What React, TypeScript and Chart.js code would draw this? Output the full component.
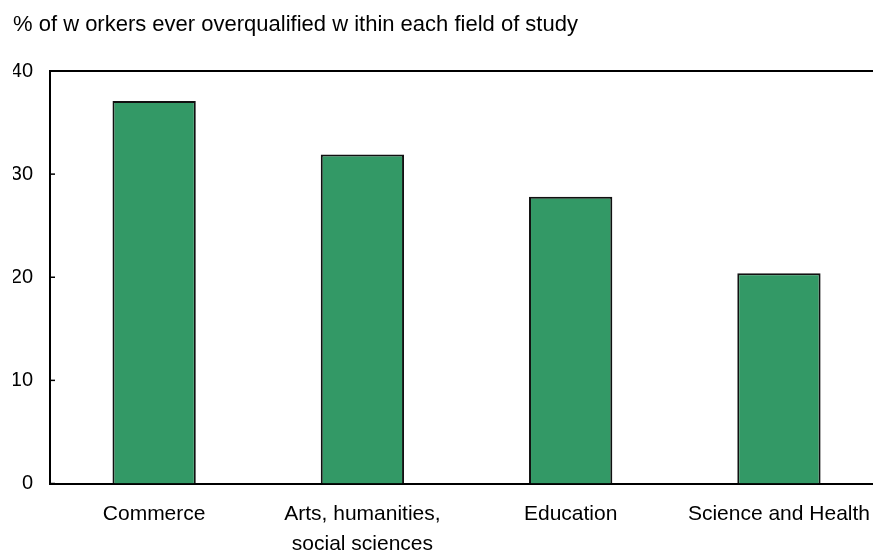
import React, { useEffect, useRef } from "react";
import { Chart, registerables } from "chart.js";

Chart.register(...registerables);

const titleText = "% of w orkers ever overqualified w ithin each field of study";
const categories: (string | string[])[] = [
  "Commerce",
  ["Arts, humanities,", "social sciences"],
  "Education",
  "Science and Health",
];
const shareOverqualified = [37.1, 31.9, 27.8, 20.4];
const yMin = 0;
const yMax = 40;
const yStep = 10;

const FONT = "'Liberation Sans', Arial, sans-serif";

// Frame line along the top of the plot plus short inward ticks on the value axis
const frameAndTicks = {
  id: "frameAndTicks",
  afterDatasetsDraw(chart: any) {
    const { ctx, chartArea, scales } = chart;
    const y = scales.y;
    ctx.save();
    ctx.strokeStyle = "#000";
    ctx.lineWidth = 1.5;
    y.ticks.forEach((t: any) => {
      const py = y.getPixelForValue(t.value);
      ctx.beginPath();
      ctx.moveTo(chartArea.left, py);
      ctx.lineTo(chartArea.left + 5, py);
      ctx.stroke();
    });
    ctx.lineWidth = 2;
    ctx.beginPath();
    ctx.moveTo(chartArea.left - 1, chartArea.top);
    ctx.lineTo(chartArea.right, chartArea.top);
    ctx.stroke();
    ctx.restore();
  },
};

export default function App() {
  const canvasRef = useRef<HTMLCanvasElement | null>(null);

  useEffect(() => {
    if (!canvasRef.current) return;
    const chart = new Chart(canvasRef.current, {
      type: "bar",
      data: {
        labels: categories,
        datasets: [
          {
            data: shareOverqualified,
            backgroundColor: "#339966",
            borderColor: "#111",
            borderWidth: 2,
            barPercentage: 0.4,
            categoryPercentage: 1,
          },
        ],
      },
      options: {
        responsive: false,
        animation: false,
        layout: { padding: { top: 11.8, left: 13, right: 0, bottom: 0 } },
        plugins: {
          legend: { display: false },
          tooltip: { enabled: false },
          title: {
            display: true,
            text: titleText,
            align: "start",
            color: "#000",
            font: { family: FONT, size: 22, weight: "normal", lineHeight: 1.2 },
            padding: { top: 0, bottom: 32.8 },
          },
        },
        scales: {
          x: {
            grid: { display: false, drawTicks: false },
            border: { display: true, color: "#000", width: 2 },
            ticks: {
              color: "#000",
              padding: 15,
              maxRotation: 0,
              autoSkip: false,
              font: { family: FONT, size: 21, lineHeight: 1.45 },
            },
            afterFit(scale: any) {
              scale.height = 68.5;
            },
          },
          y: {
            min: yMin,
            max: yMax,
            grid: { display: false, drawTicks: false },
            border: { display: true, color: "#000", width: 2 },
            ticks: {
              stepSize: yStep,
              color: "#000",
              padding: 17,
              font: { family: FONT, size: 20 },
            },
            afterFit(scale: any) {
              scale.width = 37;
            },
          },
        },
      },
      plugins: [frameAndTicks],
    });
    return () => chart.destroy();
  }, []);

  return (
    <div
      style={{
        position: "absolute",
        left: 0,
        top: 0,
        width: 873,
        height: 552,
        overflow: "hidden",
        background: "#fff",
      }}
    >
      <canvas ref={canvasRef} width={885} height={552} style={{ display: "block" }} />
    </div>
  );
}
